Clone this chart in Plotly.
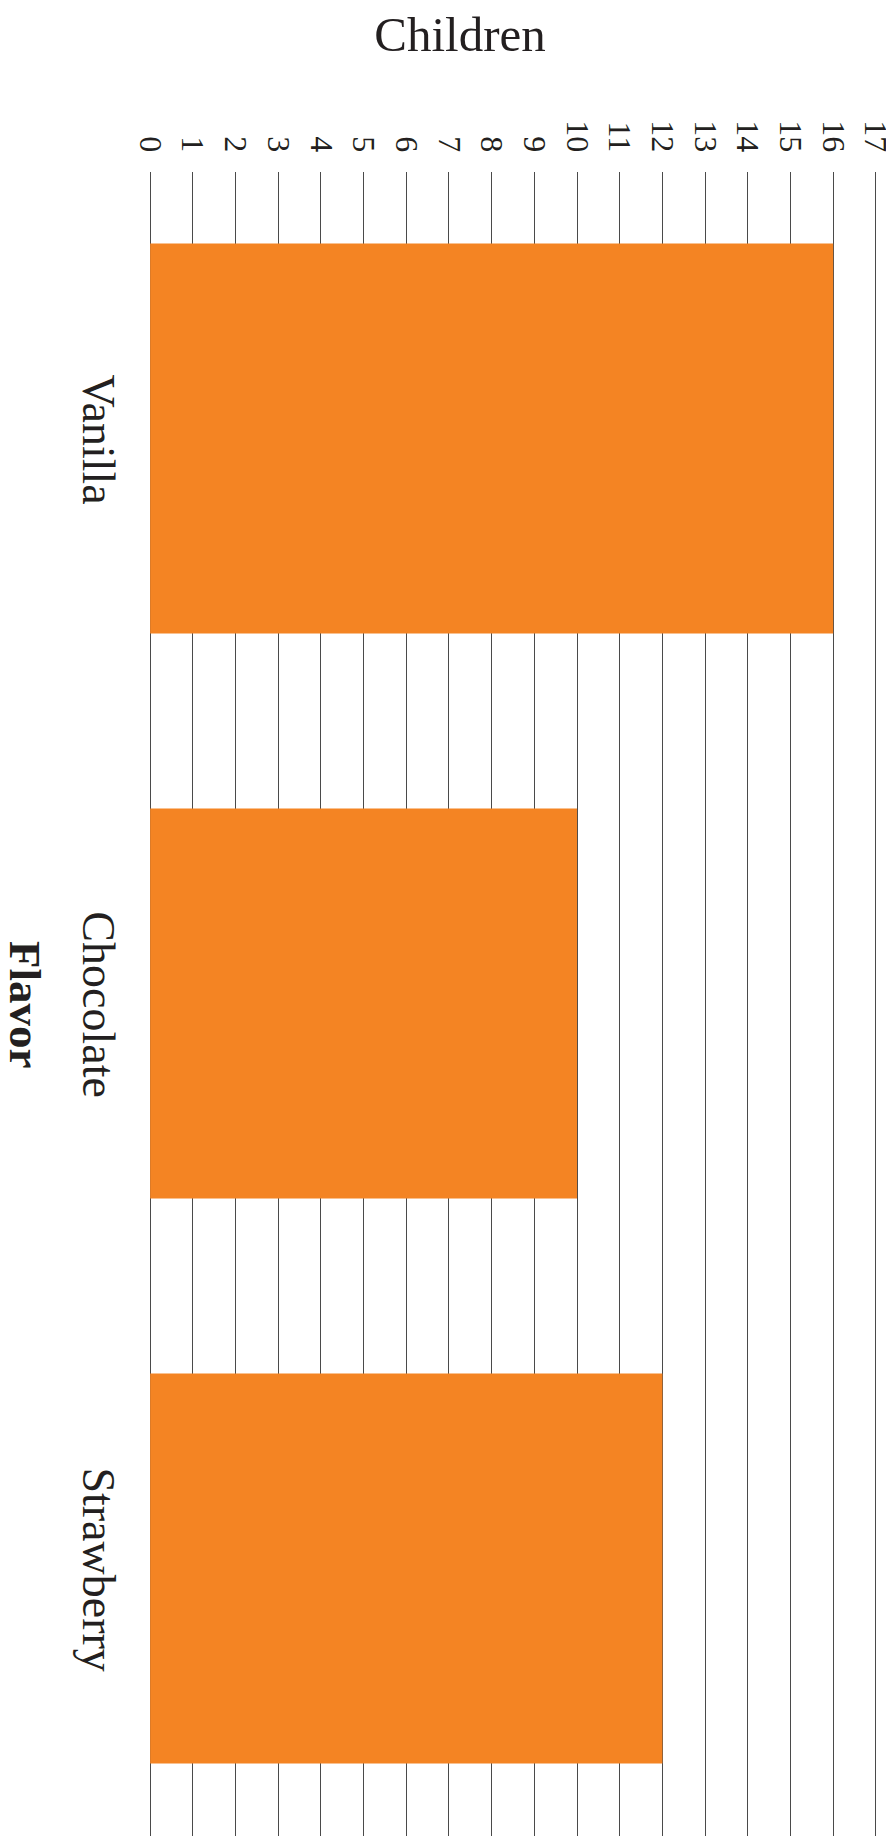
import plotly.graph_objects as go

flavors = ["Vanilla", "Chocolate", "Strawberry"]
children = [16, 10, 12]
tick_vals = list(range(0, 18))

ink = "#231F20"
serif = "Liberation Serif"

# page body adds an 8px margin, so the figure is sized to fit the window
W, H = 886, 1839

fig = go.Figure(go.Bar(
    y=flavors, x=children, orientation="h",
    marker=dict(color="#F48423", line=dict(width=0)),
    width=0.69,
))

fig.update_layout(
    width=W, height=H,
    margin=dict(l=140, r=16, t=164, b=11),
    paper_bgcolor="white", plot_bgcolor="white",
    showlegend=False,
    font=dict(family=serif, color=ink),
    title=dict(text="Children", x=452 / W, xanchor="center", xref="container",
               y=1 - 26 / H, yanchor="middle", yref="container",
               font=dict(size=49, family=serif, color=ink)),
)

# range padded a touch so the grid lines at 0 and 17 are drawn
fig.update_xaxes(
    side="top", range=[-0.05, 17.05], tickvals=tick_vals,
    tickangle=90, tickfont=dict(size=32, family=serif, color=ink),
    ticklabelstandoff=14, ticklabeloverflow="allow", automargin=False,
    showgrid=True, gridcolor="#4a4a4a", gridwidth=1,
    zeroline=False, showline=False, ticks="",
)

fig.update_yaxes(
    type="category", categoryarray=flavors,
    range=[2.4735, -0.4717],
    tickangle=90, tickfont=dict(size=46, family=serif, color=ink),
    ticklabelstandoff=18, ticklabelshift=-8, automargin=False,
    showgrid=False, zeroline=False, showline=False, ticks="",
)

fig.add_annotation(
    text="<b>Flavor</b>", textangle=90,
    xref="paper", yref="paper", x=(17 - 140) / 730, y=0.5,
    xanchor="center", yanchor="middle", showarrow=False,
    font=dict(size=45, family=serif, color=ink),
)

fig.write_html("out.html")
